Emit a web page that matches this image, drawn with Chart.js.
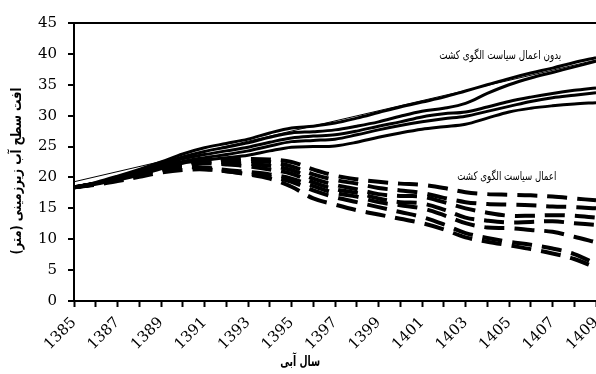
<!DOCTYPE html>
<html>
<head>
<meta charset="utf-8">
<script src="https://cdn.jsdelivr.net/npm/chart.js@4.4.1/dist/chart.umd.min.js"></script>
<style>
  html, body { margin: 0; padding: 0; background: #fff; overflow: hidden; }
  #wrap { width: 596px; height: 374px; position: relative; }
  #chart { display: block; }
</style>
</head>
<body>
<div id="wrap"><canvas id="chart"></canvas></div>
<script>
// Années hydrologiques
const years = [1385, 1386, 1387, 1388, 1389, 1390, 1391, 1392, 1393, 1394, 1395, 1396, 1397,
               1398, 1399, 1400, 1401, 1402, 1403, 1404, 1405, 1406, 1407, 1408, 1409];

// Sans politique (traits pleins)
const noPolicy1 = [18.4, 19.2, 20.2, 21.3, 22.5, 23.8, 24.8, 25.5, 26.2, 27.2, 28.0, 28.3, 28.8, 29.6, 30.5, 31.4, 32.2, 33.0, 34.0, 35.0, 36.0, 36.9, 37.7, 38.6, 39.4];
const noPolicy2 = [18.4, 19.1, 20.0, 21.0, 22.2, 23.3, 24.2, 24.9, 25.6, 26.5, 27.2, 27.4, 27.7, 28.3, 29.0, 29.9, 30.7, 31.2, 32.0, 33.6, 35.0, 36.1, 37.0, 37.9, 38.8];
const noPolicy3 = [18.4, 19.0, 19.9, 20.9, 22.0, 23.0, 23.7, 24.3, 24.9, 25.7, 26.4, 26.7, 26.9, 27.5, 28.3, 29.0, 29.8, 30.3, 30.6, 31.4, 32.3, 33.0, 33.6, 34.1, 34.5];
const noPolicy4 = [18.4, 19.0, 19.8, 20.7, 21.7, 22.6, 23.2, 23.7, 24.3, 25.1, 25.8, 26.0, 26.2, 26.9, 27.7, 28.4, 29.0, 29.5, 29.9, 30.7, 31.5, 32.3, 32.9, 33.3, 33.7];
const noPolicy5 = [18.4, 18.9, 19.6, 20.4, 21.4, 22.3, 22.8, 23.2, 23.6, 24.3, 24.9, 25.0, 25.1, 25.7, 26.5, 27.2, 27.8, 28.2, 28.6, 29.6, 30.6, 31.2, 31.6, 31.9, 32.1];

// Avec politique (tirets)
const policy1 = [18.4, 19.0, 19.9, 20.9, 21.9, 22.5, 22.8, 23.0, 23.0, 22.9, 22.5, 21.3, 20.3, 19.7, 19.3, 19.0, 18.8, 18.3, 17.6, 17.3, 17.2, 17.1, 16.9, 16.6, 16.3];
const policy2 = [18.4, 19.0, 19.9, 20.8, 21.8, 22.4, 22.7, 22.8, 22.7, 22.5, 21.8, 20.5, 19.6, 19.0, 18.3, 17.9, 17.5, 16.7, 16.0, 15.7, 15.6, 15.5, 15.3, 15.2, 15.0];
const policy3 = [18.4, 19.0, 19.8, 20.7, 21.7, 22.3, 22.5, 22.4, 22.2, 21.9, 21.2, 19.8, 18.8, 18.1, 17.3, 17.0, 16.9, 16.0, 15.0, 14.3, 13.8, 13.8, 13.9, 13.8, 13.5];
const policy4 = [18.4, 19.0, 19.8, 20.6, 21.5, 22.1, 22.3, 22.1, 21.8, 21.3, 20.6, 19.2, 18.1, 17.5, 16.6, 16.0, 15.8, 14.8, 13.5, 13.0, 12.7, 12.8, 12.9, 12.6, 12.3];
const policy5 = [18.4, 19.0, 19.7, 20.5, 21.3, 21.8, 21.6, 21.2, 20.9, 20.5, 19.8, 18.6, 17.5, 16.9, 16.0, 15.5, 15.0, 13.9, 12.6, 11.9, 11.8, 11.5, 11.2, 10.4, 9.5];
const policy6 = [18.4, 18.9, 19.6, 20.4, 21.2, 21.7, 21.4, 21.0, 20.6, 20.1, 19.3, 17.9, 16.8, 16.0, 15.2, 14.4, 13.6, 12.4, 11.0, 10.2, 9.6, 9.1, 8.5, 7.6, 6.0];
const policy7 = [18.4, 18.8, 19.4, 20.1, 20.8, 21.2, 21.3, 21.0, 20.5, 19.8, 18.5, 16.6, 15.6, 14.7, 14.0, 13.3, 12.6, 11.6, 10.3, 9.6, 9.0, 8.4, 7.7, 6.8, 5.4];

// Droite de tendance (deux extrémités)
const trendYears = [1385, 1409];
const trendValues = [19.3, 39.0];

const yTicks = [0, 5, 10, 15, 20, 25, 30, 35, 40, 45];

const yTitle = 'افت سطح آب زیرزمینی (متر)';
const xTitle = 'سال آبی';
const noteNoPolicy = 'بدون اعمال سیاست الگوی کشت';
const notePolicy = 'اعمال سیاست الگوی کشت';

const toPoints = (xs, vs) => xs.map((x, i) => ({ x, y: vs[i] }));

const solid = vals => ({
  data: toPoints(years, vals),
  borderColor: '#000', borderWidth: 3, pointRadius: 0, tension: 0.35, fill: false,
});
const dashed = vals => ({
  data: toPoints(years, vals),
  borderColor: '#000', borderWidth: 4, borderDash: [20, 10], pointRadius: 0, tension: 0.35, fill: false,
});

// Textes persans (titres + annotations), largeur bornée pour coller à la police d'origine
const textPlugin = {
  id: 'persianText',
  afterDraw(chart) {
    const { ctx, scales } = chart;
    ctx.save();
    ctx.fillStyle = '#000';
    ctx.direction = 'rtl';
    ctx.textAlign = 'center';
    ctx.textBaseline = 'middle';

    ctx.font = '12px "DejaVu Sans"';
    ctx.fillText(noteNoPolicy, scales.x.getPixelForValue(1404.6), scales.y.getPixelForValue(39.6), 122);
    ctx.fillText(notePolicy, scales.x.getPixelForValue(1404.9), scales.y.getPixelForValue(20.1), 99);

    ctx.font = 'bold 14px "DejaVu Sans"';
    ctx.fillText(xTitle, scales.x.getPixelForValue(1395.4), chart.height - 12, 40);

    ctx.translate(17, 171);
    ctx.rotate(-Math.PI / 2);
    ctx.fillText(yTitle, 0, 0, 167);
    ctx.restore();
  }
};

new Chart(document.getElementById('chart'), {
  type: 'line',
  data: {
    datasets: [
      {
        data: toPoints(trendYears, trendValues),
        borderColor: '#000', borderWidth: 1, pointRadius: 0, tension: 0, fill: false,
      },
      solid(noPolicy1), solid(noPolicy2), solid(noPolicy3), solid(noPolicy4), solid(noPolicy5),
      dashed(policy1), dashed(policy2), dashed(policy3), dashed(policy4),
      dashed(policy5), dashed(policy6), dashed(policy7),
    ]
  },
  options: {
    responsive: true,
    maintainAspectRatio: false,
    animation: false,
    layout: { autoPadding: false, padding: { top: 23, right: 0, bottom: 0, left: 0 } },
    plugins: { legend: { display: false }, tooltip: { enabled: false } },
    scales: {
      x: {
        type: 'linear',
        min: years[0],
        max: years[years.length - 1],
        // le graphique d'origine est coupé à droite : pas de marge pour le dernier label
        afterFit: s => { s.height = 73; s.paddingRight = 0; s.paddingLeft = 0; },
        border: { color: '#000', width: 2 },
        grid: { drawOnChartArea: false, drawTicks: true, tickLength: 6, tickColor: '#000', tickWidth: 2 },
        ticks: {
          stepSize: 1, autoSkip: false, maxRotation: 45, minRotation: 45, padding: 7,
          color: '#000', font: { family: 'DejaVu Serif', size: 15 },
          callback: v => (v % 2 === 1 ? String(v) : '')
        }
      },
      y: {
        min: yTicks[0],
        max: yTicks[yTicks.length - 1],
        afterFit: s => { s.width = 74; },
        afterBuildTicks: s => { s.ticks = yTicks.map(v => ({ value: v })); },
        border: { color: '#000', width: 2 },
        grid: {
          color: c => (c.tick && c.tick.value === 45 ? '#000' : 'rgba(0,0,0,0)'),
          lineWidth: 2, tickLength: 6, tickColor: '#000', tickWidth: 2
        },
        ticks: { padding: 11, color: '#000', font: { family: 'DejaVu Serif', size: 15 } }
      }
    }
  },
  plugins: [textPlugin]
});
</script>
</body>
</html>
